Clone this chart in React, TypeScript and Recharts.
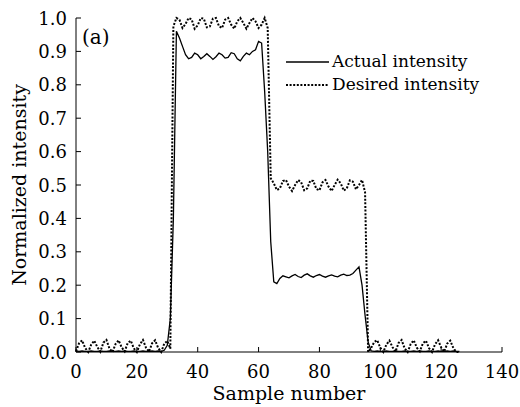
import { Legend, Line, LineChart, XAxis, YAxis } from "recharts";

// values, one list per level of the step profile
const actualLow1 = [
  0.003, 0.002, 0.003, 0.002, 0.002, 0.003, 0.002, 0.002, 0.003, 0.002, 0.002, 0.003, 0.002, 0.002, 0.003, 0.002,
  0.003, 0.002, 0.002, 0.003, 0.002, 0.002, 0.003, 0.002, 0.002, 0.003, 0.002, 0.003, 0.002, 0.005, 0.02, 0.1,
];
const actualHigh = [
  0.4, 0.96, 0.94, 0.915, 0.89, 0.878, 0.882, 0.895, 0.89, 0.878, 0.885, 0.893, 0.885, 0.876, 0.884, 0.895,
  0.89, 0.88, 0.882, 0.896, 0.893, 0.878, 0.872, 0.885, 0.895, 0.89, 0.9, 0.905, 0.93, 0.925, 0.78, 0.6,
];
const actualMid = [
  0.33, 0.21, 0.205, 0.22, 0.228, 0.225, 0.222, 0.228, 0.232, 0.226, 0.223, 0.23, 0.234, 0.228, 0.224, 0.229,
  0.232, 0.227, 0.224, 0.228, 0.231, 0.227, 0.225, 0.23, 0.233, 0.229, 0.23, 0.235, 0.245, 0.255, 0.2, 0.11,
];
const actualLow2 = [
  0.03, 0.003, 0.002, 0.003, 0.002, 0.002, 0.003, 0.002, 0.002, 0.003, 0.002, 0.002, 0.003, 0.002, 0.002, 0.003,
  0.002, 0.003, 0.002, 0.002, 0.003, 0.002, 0.002, 0.003, 0.002, 0.002, 0.003, 0.002, 0.003, 0.002, 0.002,
];

const desiredLow1 = [
  0.002, 0.026, 0.035, 0.012, 0.0, 0.022, 0.034, 0.015, 0.001, 0.028, 0.036, 0.01, 0.0, 0.024, 0.035, 0.014,
  0.002, 0.027, 0.034, 0.011, 0.0, 0.023, 0.036, 0.013, 0.001, 0.026, 0.035, 0.012, 0.0, 0.025, 0.033, 0.01,
];
const desiredHigh = [
  0.975, 1.0, 0.995, 0.97, 0.982, 1.0, 0.996, 0.968, 0.978, 1.0, 0.998, 0.972, 0.975, 0.998, 1.0, 0.975,
  0.97, 0.995, 1.0, 0.98, 0.968, 0.99, 1.0, 0.985, 0.968, 0.985, 1.0, 0.99, 0.97, 0.98, 1.0, 0.97,
];
const desiredMid = [
  0.52, 0.505, 0.485, 0.49, 0.512, 0.515, 0.495, 0.482, 0.5, 0.515, 0.508, 0.484, 0.49, 0.513, 0.512, 0.488,
  0.484, 0.508, 0.515, 0.495, 0.482, 0.5, 0.516, 0.505, 0.483, 0.49, 0.514, 0.51, 0.487, 0.5, 0.515, 0.478,
];
const desiredLow2 = [
  0.0, 0.012, 0.03, 0.035, 0.013, 0.0, 0.022, 0.034, 0.015, 0.001, 0.027, 0.036, 0.011, 0.0, 0.024, 0.035,
  0.013, 0.002, 0.026, 0.034, 0.012, 0.0, 0.023, 0.035, 0.014, 0.001, 0.025, 0.034, 0.012, 0.0, 0.0,
];

const xTicks = [0, 20, 40, 60, 80, 100, 120, 140];
const yTicks = [0, 0.1, 0.2, 0.3, 0.4, 0.5, 0.6, 0.7, 0.8, 0.9, 1.0];

const actual = [...actualLow1, ...actualHigh, ...actualMid, ...actualLow2];
const desired = [...desiredLow1, ...desiredHigh, ...desiredMid, ...desiredLow2];
const data = actual.map((value, i) => ({ sample: i, actual: value, desired: desired[i] }));

const FONT = "'DejaVu Serif', serif";
const TICK_LEN = 5;
const DOTS = "2 1.6";

function BottomTick({ x, y, payload }: any) {
  return (
    <g>
      <line x1={x} y1={y} x2={x} y2={y - TICK_LEN} stroke="#000" />
      <text x={x} y={y + 26} textAnchor="middle" fontFamily={FONT} fontSize={18} fill="#000">
        {payload.value}
      </text>
    </g>
  );
}

function LeftTick({ x, y, payload }: any) {
  return (
    <g>
      <line x1={x} y1={y} x2={x + TICK_LEN} y2={y} stroke="#000" />
      <text x={x - 9} y={y + 6.5} textAnchor="end" fontFamily={FONT} fontSize={18} fill="#000">
        {Number(payload.value).toFixed(1)}
      </text>
    </g>
  );
}

function TopTick({ x, y }: any) {
  return <line x1={x} y1={y} x2={x} y2={y + TICK_LEN} stroke="#000" />;
}

function RightTick({ x, y }: any) {
  return <line x1={x} y1={y} x2={x - TICK_LEN} y2={y} stroke="#000" />;
}

function LegendBox() {
  const rows = [
    { label: "Actual intensity", dash: undefined, width: 1.3 },
    { label: "Desired intensity", dash: DOTS, width: 2 },
  ];
  return (
    <div style={{ fontFamily: FONT, fontSize: 17, lineHeight: "23px", color: "#000" }}>
      {rows.map((row) => (
        <div key={row.label} style={{ display: "flex", alignItems: "center", whiteSpace: "nowrap" }}>
          <svg width={47} height={10}>
            <line x1={1} y1={5} x2={44} y2={5} stroke="#000" strokeWidth={row.width} strokeDasharray={row.dash} />
          </svg>
          <span>{row.label}</span>
        </div>
      ))}
    </div>
  );
}

export default function App() {
  return (
    <div style={{ position: "absolute", left: 0, top: 0, width: 520, height: 407, background: "#fff" }}>
      <LineChart width={520} height={407} data={data} margin={{ top: 18, right: 18, bottom: 0, left: 0 }}>
        <XAxis
          dataKey="sample"
          type="number"
          domain={[0, 140]}
          ticks={xTicks}
          height={55}
          tickSize={0}
          tickMargin={0}
          tickLine={false}
          axisLine={{ stroke: "#000" }}
          tick={<BottomTick />}
          interval={0}
        />
        <XAxis
          xAxisId="top"
          dataKey="sample"
          type="number"
          orientation="top"
          domain={[0, 140]}
          ticks={xTicks}
          height={0}
          tickSize={0}
          tickMargin={0}
          tickLine={false}
          axisLine={{ stroke: "#000" }}
          tick={<TopTick />}
          interval={0}
        />
        <YAxis
          type="number"
          domain={[0, 1]}
          ticks={yTicks}
          width={76}
          tickSize={0}
          tickMargin={0}
          tickLine={false}
          axisLine={{ stroke: "#000" }}
          tick={<LeftTick />}
          interval={0}
        />
        <YAxis
          yAxisId="right"
          orientation="right"
          type="number"
          domain={[0, 1]}
          ticks={yTicks}
          width={0}
          tickSize={0}
          tickMargin={0}
          tickLine={false}
          axisLine={{ stroke: "#000" }}
          tick={<RightTick />}
          interval={0}
        />
        <Legend
          layout="vertical"
          verticalAlign="middle"
          align="center"
          content={<LegendBox />}
          wrapperStyle={{ left: 285, top: 50, width: "auto" }}
        />
        <Line
          dataKey="desired"
          type="linear"
          stroke="#000"
          strokeWidth={2}
          strokeDasharray={DOTS}
          dot={false}
          isAnimationActive={false}
        />
        <Line dataKey="actual" type="linear" stroke="#000" strokeWidth={1.3} dot={false} isAnimationActive={false} />
        <text x={82} y={44} fontFamily={FONT} fontSize={20} fill="#000">
          (a)
        </text>
        <text x={289} y={400} textAnchor="middle" fontFamily={FONT} fontSize={19} fill="#000">
          Sample number
        </text>
        <text
          x={26}
          y={185}
          textAnchor="middle"
          transform="rotate(-90 26 185)"
          fontFamily={FONT}
          fontSize={19}
          fill="#000"
        >
          Normalized intensity
        </text>
      </LineChart>
    </div>
  );
}
